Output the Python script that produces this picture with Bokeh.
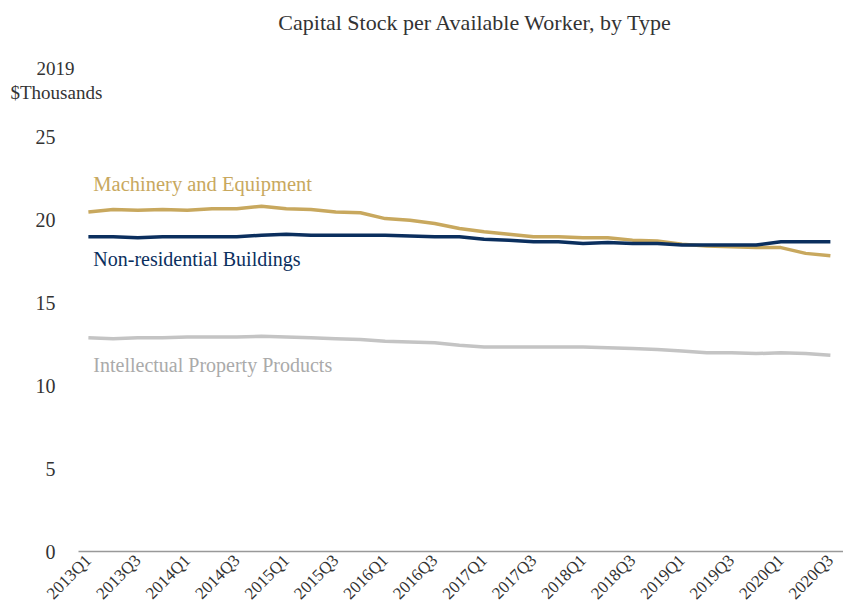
import math
from bokeh.plotting import figure
from bokeh.layouts import column
from bokeh.models import Range1d, FixedTicker, Label, Title
from bokeh.core.properties import value
from bokeh.embed import file_html
from bokeh.resources import INLINE

quarters = [f"{y}Q{q}" for y in range(2013, 2021) for q in range(1, 5)][:31]

machinery = [20.5, 20.65, 20.6, 20.65, 20.6, 20.7, 20.7, 20.85,
             20.7, 20.65, 20.5, 20.45, 20.1, 20.0, 19.8, 19.5,
             19.3, 19.15, 19.0, 19.0, 18.95, 18.95, 18.8, 18.75,
             18.55, 18.45, 18.4, 18.35, 18.35, 18.0, 17.85]
buildings = [19.0, 19.0, 18.95, 19.0, 19.0, 19.0, 19.0, 19.1,
             19.15, 19.1, 19.1, 19.1, 19.1, 19.05, 19.0, 19.0,
             18.85, 18.8, 18.7, 18.7, 18.6, 18.65, 18.6, 18.6,
             18.5, 18.5, 18.5, 18.5, 18.7, 18.7, 18.7]
ipp = [12.9, 12.85, 12.9, 12.9, 12.95, 12.95, 12.95, 13.0,
       12.95, 12.9, 12.85, 12.8, 12.7, 12.65, 12.6, 12.45,
       12.35, 12.35, 12.35, 12.35, 12.35, 12.3, 12.25, 12.2,
       12.1, 12.0, 12.0, 11.95, 12.0, 11.95, 11.85]

series_names = ["Machinery and Equipment", "Non-residential Buildings",
                "Intellectual Property Products"]
y_ticks = [0, 5, 10, 15, 20, 25]
title_text = "Capital Stock per Available Worker, by Type"
unit_lines = ["2019", "$Thousands"]

FONT = "Liberation Serif"
GOLD = "#C8A85E"
NAVY = "#0B2F5E"
GRAY = "#C4C4C4"
TXT = "#333333"

idx = list(range(len(quarters)))

# ---- header strip with the chart title (frame aligned with the chart: 78..843 px) ----
header = figure(width=843, height=50, output_backend="svg", toolbar_location=None,
                x_range=Range1d(78, 843), y_range=Range1d(50, 0),
                x_axis_type=None, y_axis_type=None,
                min_border_left=0, min_border_right=0,
                min_border_top=0, min_border_bottom=0)
header.outline_line_color = None
header.grid.grid_line_color = None
header.text(x=[475], y=[22], text=[title_text], text_align="center",
            text_baseline="middle", text_font=value(FONT),
            text_font_size="22px", text_color=TXT)

# ---- main chart ----
p = figure(width=843, height=562, output_backend="svg", toolbar_location=None,
           x_range=Range1d(-0.40, 30.53), y_range=Range1d(0, 27.11),
           min_border_left=78, min_border_right=0, min_border_top=52,
           min_border_bottom=58)
p.outline_line_color = None
p.grid.grid_line_color = None
p.background_fill_color = "white"
p.border_fill_color = "white"

p.line(idx, machinery, line_color=GOLD, line_width=3.5)
p.line(idx, buildings, line_color=NAVY, line_width=3.5)
p.line(idx, ipp, line_color=GRAY, line_width=3.5)

# unit label above the y axis
p.add_layout(Title(text=unit_lines[1], align="left", offset=-68, text_font=FONT,
                   text_font_size="19px", text_font_style="normal",
                   text_color=TXT, standoff=0), "above")
p.add_layout(Title(text=unit_lines[0], align="left", offset=-42, text_font=FONT,
                   text_font_size="19px", text_font_style="normal",
                   text_color=TXT, standoff=10), "above")

# y axis
p.yaxis.ticker = FixedTicker(ticks=y_ticks)
p.yaxis.axis_line_color = None
p.yaxis.major_tick_line_color = None
p.yaxis.minor_tick_line_color = None
p.yaxis.major_label_standoff = 17
p.yaxis.major_label_text_font = FONT
p.yaxis.major_label_text_font_size = "20px"
p.yaxis.major_label_text_color = TXT

# x axis
p.xaxis.ticker = FixedTicker(ticks=idx[::2])
p.xaxis.major_label_overrides = {i: quarters[i] for i in idx[::2]}
p.xaxis.major_label_orientation = math.pi / 4
p.xaxis.axis_line_color = "#999999"
p.xaxis.axis_line_width = 1.5
p.xaxis.major_tick_line_color = None
p.xaxis.minor_tick_line_color = None
p.xaxis.major_label_standoff = 0
p.xaxis.major_label_text_font = FONT
p.xaxis.major_label_text_font_size = "17px"
p.xaxis.major_label_text_color = TXT

# series labels
p.add_layout(Label(x=0.2, y=22.2, text=series_names[0], text_font=FONT,
                   text_font_size="20.5px", text_color=GOLD, text_baseline="middle"))
p.add_layout(Label(x=0.2, y=17.65, text=series_names[1], text_font=FONT,
                   text_font_size="20px", text_color=NAVY, text_baseline="middle"))
p.add_layout(Label(x=0.2, y=11.25, text=series_names[2], text_font=FONT,
                   text_font_size="20px", text_color="#AAAAAA", text_baseline="middle"))

layout = column(header, p, spacing=0)
open("out.html", "w").write(file_html(layout, INLINE))
